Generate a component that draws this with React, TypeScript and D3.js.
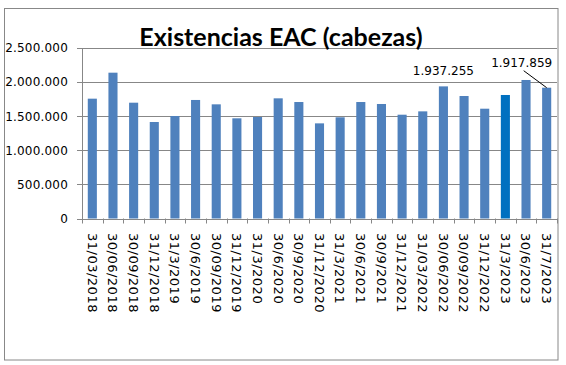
import React from "react";
import * as d3 from "d3";

const categories = [
  "31/03/2018", "30/06/2018", "30/09/2018", "31/12/2018",
  "31/3/2019", "30/6/2019", "30/09/2019", "31/12/2019",
  "31/3/2020", "30/6/2020", "30/9/2020", "31/12/2020",
  "31/3/2021", "30/6/2021", "30/9/2021", "31/12/2021",
  "31/03/2022", "30/06/2022", "30/09/2022", "31/12/2022",
  "31/3/2023", "30/6/2023", "31/7/2023",
];

const values = [
  1757000, 2138000, 1698000, 1415000,
  1503000, 1738000, 1674000, 1469000,
  1488000, 1762000, 1708000, 1395000,
  1484000, 1708000, 1679000, 1522000,
  1571000, 1937255, 1796000, 1610000,
  1811000, 2031000, 1917859,
];

const yTicks = [0, 500000, 1000000, 1500000, 2000000, 2500000];
const highlighted = ["31/3/2023"];
const labelled = ["30/06/2022", "31/7/2023"];
const title = "Existencias EAC (cabezas)";

const W = 566;
const H = 365;
const plot = { left: 82, right: 557, top: 48, bottom: 218.5 };

const fmt = (v: number) => {
  if (v === 0) return "0";
  return Math.round(v).toString().replace(/\B(?=(\d{3})+(?!\d))/g, ".");
};

export default function App() {
  const x = d3
    .scaleBand<string>()
    .domain(categories)
    .range([plot.left, plot.right])
    .paddingInner(0.56)
    .paddingOuter(0.28);
  const y = d3.scaleLinear().domain([0, 2500000]).range([plot.bottom, plot.top]);
  const step = (plot.right - plot.left) / categories.length;
  const font = "'DejaVu Sans', Verdana, sans-serif";
  const grid = "#878787";

  return (
    <svg
      width={W}
      height={H}
      style={{ position: "absolute", left: 0, top: 0, background: "#fff" }}
    >
      <rect x={0} y={0} width={W} height={H} fill="#fff" />
      <rect x={4.5} y={8.5} width={553.5} height={351.5} fill="none" stroke="#888" strokeWidth={1} />
      {/* gridlines */}
      {yTicks.map((t) => (
        <line
          key={"g" + t}
          x1={plot.left - 5}
          x2={plot.right}
          y1={Math.round(y(t)) + 0.5}
          y2={Math.round(y(t)) + 0.5}
          stroke={grid}
          strokeWidth={1}
        />
      ))}
      {/* y axis line */}
      <line x1={plot.left + 0.5} x2={plot.left + 0.5} y1={y(2500000)} y2={y(0) + 0.5} stroke={grid} />
      {/* y labels */}
      {yTicks.map((t) => (
        <text
          key={"yl" + t}
          x={68}
          y={y(t)}
          dy="0.36em"
          textAnchor="end"
          fontFamily={font}
          fontSize={12}
          letterSpacing={0.2}
          fill="#000"
        >
          {fmt(t)}
        </text>
      ))}
      {/* x ticks */}
      {d3.range(categories.length + 1).map((i) => (
        <line
          key={"xt" + i}
          x1={Math.round(plot.left + i * step) + 0.5}
          x2={Math.round(plot.left + i * step) + 0.5}
          y1={y(0)}
          y2={y(0) + 5}
          stroke={grid}
        />
      ))}
      {/* bars */}
      {categories.map((c, i) => (
        <rect
          key={"b" + c}
          x={x(c)!}
          y={y(values[i])}
          width={x.bandwidth()}
          height={y(0) - y(values[i])}
          fill={highlighted.includes(c) ? "#0070C0" : "#4F81BD"}
        />
      ))}
      {/* x labels */}
      {categories.map((c) => (
        <text
          key={"xl" + c}
          transform={`translate(${x(c)! + x.bandwidth() / 2},233) rotate(90)`}
          dy="0.36em"
          textAnchor="start"
          fontFamily={font}
          fontSize={13}
          letterSpacing={0.5}
          fill="#000"
        >
          {c}
        </text>
      ))}
      {/* data labels */}
      {(() => {
        const c1 = labelled[0];
        const i1 = categories.indexOf(c1);
        const c2 = labelled[1];
        const i2 = categories.indexOf(c2);
        const cx1 = x(c1)! + x.bandwidth() / 2;
        const cx2 = x(c2)! + x.bandwidth() / 2;
        return (
          <g fontFamily={font} fontSize={12} fill="#000">
            <text x={cx1} y={y(values[i1]) - 11} textAnchor="middle">
              {fmt(values[i1])}
            </text>
            <text x={cx2 - 25} y={y(values[i2]) - 21} textAnchor="middle">
              {fmt(values[i2])}
            </text>
            <line
              x1={cx2 - 23}
              y1={y(values[i2]) - 17}
              x2={cx2}
              y2={y(values[i2])}
              stroke="#000"
              strokeWidth={1}
            />
          </g>
        );
      })()}
      {/* title */}
      <text
        x={281}
        y={46}
        textAnchor="middle"
        fontFamily="Lato, 'Open Sans', sans-serif"
        fontWeight={700}
        fontSize={25}
        fill="#000"
      >
        {title}
      </text>
    </svg>
  );
}
